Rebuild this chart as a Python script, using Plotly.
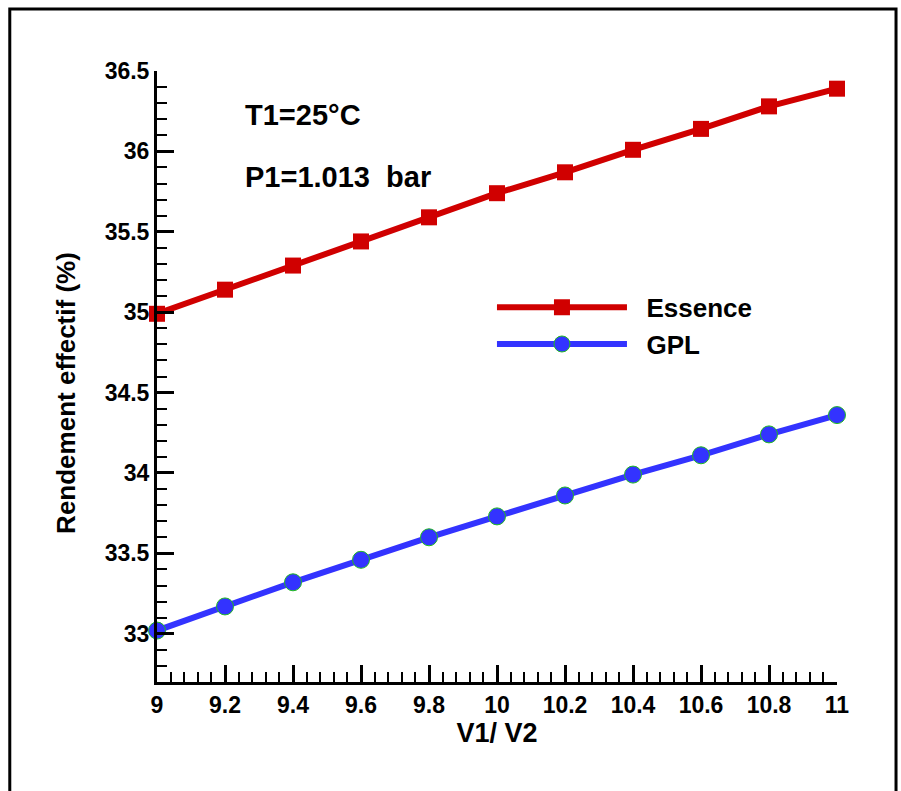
import plotly.graph_objects as go

x_vals = [9, 9.2, 9.4, 9.6, 9.8, 10, 10.2, 10.4, 10.6, 10.8, 11]
essence = [34.99, 35.14, 35.29, 35.44, 35.59, 35.74, 35.87, 36.01, 36.14, 36.28, 36.39]
gpl = [33.02, 33.17, 33.32, 33.46, 33.60, 33.73, 33.86, 33.99, 34.11, 34.24, 34.36]
series_names = ["Essence", "GPL"]

FONT = "Liberation Sans, Arial, sans-serif"
NB = "\u00a0\u00a0"

fig = go.Figure()
fig.add_trace(go.Scatter(
    x=x_vals, y=essence, name=NB + series_names[0], mode="lines+markers", cliponaxis=False,
    line=dict(color="#D00000", width=6),
    marker=dict(symbol="square", size=16, color="#D00000", line=dict(width=0)),
))
fig.add_trace(go.Scatter(
    x=x_vals, y=gpl, name=NB + series_names[1], mode="lines+markers", cliponaxis=False,
    line=dict(color="#3333FF", width=6),
    marker=dict(symbol="circle", size=17, color="#3333FF", line=dict(color="#22BB22", width=1)),
))

tickfont = dict(family=FONT, size=23, color="black", weight="bold")

fig.update_layout(
    width=901, height=791,
    margin=dict(l=157, r=64, t=71, b=109),
    paper_bgcolor="white", plot_bgcolor="white",
    font=dict(family=FONT, color="black"),
    showlegend=True,
    legend=dict(
        x=0.4926, y=0.583, xanchor="left", yanchor="middle",
        bgcolor="rgba(0,0,0,0)", itemwidth=130,
        font=dict(family=FONT, size=26, color="black", weight="bold"),
        tracegroupgap=0, itemsizing="trace",
    ),
    xaxis=dict(
        range=[9, 11], tickmode="linear", tick0=9, dtick=0.2,
        showline=True, linecolor="black", linewidth=3, mirror=False,
        ticks="inside", ticklen=17, tickwidth=3, tickcolor="black",
        minor=dict(ticks="inside", ticklen=10, tickwidth=2, tickcolor="black", tick0=9, dtick=0.04, showgrid=False),
        showgrid=False, zeroline=False,
        tickfont=tickfont,
        title=dict(text="V1/ V2", font=dict(family=FONT, size=27, color="black", weight="bold"), standoff=6),
    ),
    yaxis=dict(
        range=[32.7, 36.5], tickmode="linear", tick0=33, dtick=0.5,
        showline=True, linecolor="black", linewidth=3, mirror=False,
        ticks="inside", ticklen=17, tickwidth=3, tickcolor="black",
        minor=dict(ticks="inside", ticklen=10, tickwidth=2, tickcolor="black", tick0=33, dtick=0.1, showgrid=False),
        showgrid=False, zeroline=False,
        tickfont=tickfont,
    ),
    annotations=[
        dict(text="Rendement effectif (%)", xref="paper", yref="paper", x=-0.134, y=0.473,
             xanchor="center", yanchor="middle", textangle=-90, showarrow=False,
             font=dict(family=FONT, size=26, color="black", weight="bold")),
        dict(text="T1=25°C", xref="paper", yref="paper", x=0.126, y=0.928, xanchor="left", yanchor="middle",
             showarrow=False, font=dict(family=FONT, size=29, color="black", weight="bold")),
        dict(text="P1=1.013  bar", xref="paper", yref="paper", x=0.126, y=0.826, xanchor="left", yanchor="middle",
             showarrow=False, font=dict(family=FONT, size=29, color="black", weight="bold")),
    ],
    shapes=[
        dict(type="rect", xref="paper", yref="paper", x0=-0.2165, x1=1.0868, y0=-0.2, y1=1.1015,
             line=dict(color="black", width=3), fillcolor="rgba(0,0,0,0)", layer="below"),
    ],
)

fig.write_html("out.html")
